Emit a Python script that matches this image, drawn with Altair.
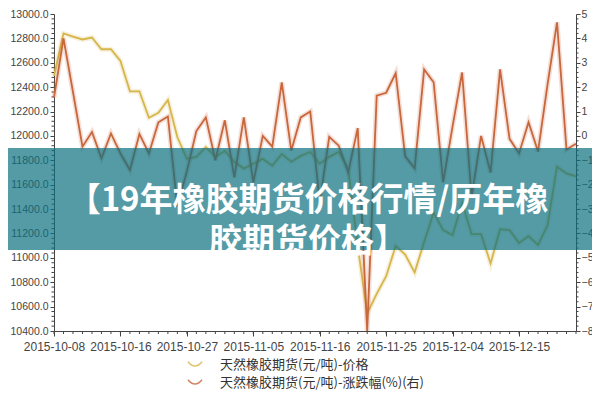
import altair as alt
import pandas as pd

dates = [
    "2015-10-08", "2015-10-09", "2015-10-10", "2015-10-12", "2015-10-13", "2015-10-14", "2015-10-15",
    "2015-10-16", "2015-10-19", "2015-10-20", "2015-10-21", "2015-10-22", "2015-10-23", "2015-10-26",
    "2015-10-27", "2015-10-28", "2015-10-29", "2015-10-30", "2015-11-02", "2015-11-03", "2015-11-04",
    "2015-11-05", "2015-11-06", "2015-11-09", "2015-11-10", "2015-11-11", "2015-11-12", "2015-11-13",
    "2015-11-16", "2015-11-17", "2015-11-18", "2015-11-19", "2015-11-20", "2015-11-23", "2015-11-24",
    "2015-11-25", "2015-11-26", "2015-11-27", "2015-11-30", "2015-12-01", "2015-12-02", "2015-12-03",
    "2015-12-04", "2015-12-07", "2015-12-08", "2015-12-09", "2015-12-10", "2015-12-11", "2015-12-14",
    "2015-12-15", "2015-12-16", "2015-12-17", "2015-12-18", "2015-12-21", "2015-12-22", "2015-12-23",
]

price = [
    12494, 12840, 12815, 12791, 12807, 12711, 12711, 12615, 12366, 12366,
    12149, 12189, 12294, 11989, 11812, 11828, 11909, 11828, 11877, 11788,
    11732, 11772, 11812, 11756, 11852, 11788, 11836, 11868, 11772, 11828,
    11868, 11732, 11098, 10544, 10705, 10849, 11098, 11026, 10881, 11130,
    11371, 11227, 11186, 11451, 11194, 11194, 10954, 11235, 11227, 11122,
    11178, 11106, 11267, 11748, 11692, 11668,
]

change = [
    1.57, 4.0, 1.8, -0.44, 0.16, -0.92, 0.1, -0.72, -1.4, 0.08,
    -0.72, 0.56, 0.8, -2.9, -1.45, 0.2, 0.76, -1.0, 0.64, -1.7,
    0.76, -1.9, 0.0, -0.44, 2.2, -0.6, 0.76, 1.0, -2.7, -0.04,
    -0.4, -1.5, 0.32, -8.0, 1.65, 1.77, 2.57, -0.84, -1.33, 2.73,
    2.2, -1.9, 0.4, 2.6, -2.5, 0.0, -1.5, 2.73, -0.12, -0.72,
    0.56, -0.64, 2.1, 4.66, -0.56, -0.32,
]

label_dates = dates[::7]
series_names = ["天然橡胶期货(元/吨)-价格", "天然橡胶期货(元/吨)-涨跌幅(%)(右)"]
series_colors = ["#d6b64a", "#c8663c"]
left_ticks = list(range(10400, 13001, 200))
left_minor = [v for v in range(10400, 13001, 40) if v % 200]
right_ticks = list(range(-8, 6))
right_minor = [round(-8 + 0.2 * k, 1) for k in range(66) if k % 5]
title_lines = ["【19年橡胶期货价格行情/历年橡", "胶期货价格】"]

W, H = 522, 317
AX = "#444444"
FONT = "Liberation Sans"
CJK = "Noto Sans CJK SC"

n = len(dates)
df = pd.DataFrame({
    "date": dates * 2,
    "series": [series_names[0]] * n + [series_names[1]] * n,
    "value": price + change,
})

xscale = alt.Scale(type="point", domain=dates, padding=0)
left_scale = alt.Scale(domain=[10400, 13000], nice=False, zero=False)
right_scale = alt.Scale(domain=[-8, 5], nice=False, zero=False)
color = alt.Color(
    "series:N",
    scale=alt.Scale(domain=series_names, range=series_colors),
    legend=alt.Legend(
        title=None, orient="none", legendX=133, legendY=343, direction="vertical",
        labelFont=CJK, labelFontSize=13, labelColor="#333333", labelLimit=500,
        symbolType="M-1,-0.45Q0,0.75,1,-0.45", symbolSize=200, symbolStrokeWidth=1.5,
        symbolOpacity=0.8, labelOffset=17, rowPadding=3,
    ),
)

x_axis = alt.Axis(
    values=label_dates, title=None, labelAngle=0, grid=False, tickSize=5,
    labelPadding=5, labelFont=FONT, labelFontSize=12, labelColor=AX,
    tickColor=AX, domainColor=AX, labelOverlap=False,
)
x_enc = alt.X("date:N", scale=xscale, sort=None, axis=x_axis)

left_axis = alt.Axis(
    values=left_ticks, format=".1f", title=None, grid=False, tickSize=4,
    labelPadding=2, labelFont=FONT, labelFontSize=10.5, labelColor=AX,
    tickColor=AX, domainColor=AX, orient="left",
)
right_axis = alt.Axis(
    values=right_ticks, format="d", title=None, grid=False, tickSize=4,
    labelPadding=1, labelFont=FONT, labelFontSize=10.5, labelColor=AX,
    tickColor=AX, domainColor=AX, orient="right",
)
price_y = alt.Y("value:Q", scale=left_scale, axis=left_axis)
chg_y = alt.Y("value:Q", scale=right_scale, axis=right_axis)

# price (left axis)
price_base = alt.Chart(df).transform_filter(alt.datum.series == series_names[0])
price_glow = price_base.mark_line(strokeWidth=5, opacity=0.2).encode(x=x_enc, y=price_y, color=color)
price_line = price_base.mark_line(strokeWidth=1.8).encode(x=x_enc, y=price_y, color=color)
left_minor_ticks = alt.Chart(pd.DataFrame({"value": left_minor})).mark_rule(color=AX).encode(
    y=price_y, x=alt.value(0), x2=alt.value(-2.5)
)
x_minor_ticks = alt.Chart(pd.DataFrame({"date": dates})).mark_rule(color=AX).encode(
    x=x_enc, y=alt.value(H), y2=alt.value(H + 3)
)
price_layer = alt.layer(price_glow, price_line, left_minor_ticks, x_minor_ticks)

# change (right axis)
chg_base = alt.Chart(df).transform_filter(alt.datum.series == series_names[1])
chg_glow = chg_base.mark_line(strokeWidth=5, opacity=0.2).encode(x=x_enc, y=chg_y, color=color)
chg_line = chg_base.mark_line(strokeWidth=1.8).encode(x=x_enc, y=chg_y, color=color)
right_minor_ticks = alt.Chart(pd.DataFrame({"value": right_minor})).mark_rule(color=AX).encode(
    y=chg_y, x=alt.value(W), x2=alt.value(W + 2.5)
)
chg_layer = alt.layer(chg_glow, chg_line, right_minor_ticks)

# banner overlay
banner_df = pd.DataFrame({"line": ["\n".join(title_lines)]})
banner = alt.Chart(banner_df).mark_rect(color="#0b7080", opacity=0.7).encode(
    x=alt.value(-46), x2=alt.value(W + 16), y=alt.value(134), y2=alt.value(236)
)
banner_text = alt.Chart(banner_df).mark_text(
    font=CJK, fontSize=33, fontWeight="bold", color="white", align="center",
    baseline="middle", lineBreak="\n", lineHeight=41,
).encode(text="line:N", x=alt.value(254), y=alt.value(187))

chart = alt.layer(price_layer, chg_layer, banner, banner_text).resolve_scale(
    y="independent"
).properties(
    width=W, height=H,
    autosize=alt.AutoSizeParams(type="none"),
    padding={"left": 46, "top": 6, "right": 16, "bottom": 61},
    background="white",
).configure_view(stroke=None)

chart.save("out.html", embed_options={"renderer": "svg", "actions": False})
